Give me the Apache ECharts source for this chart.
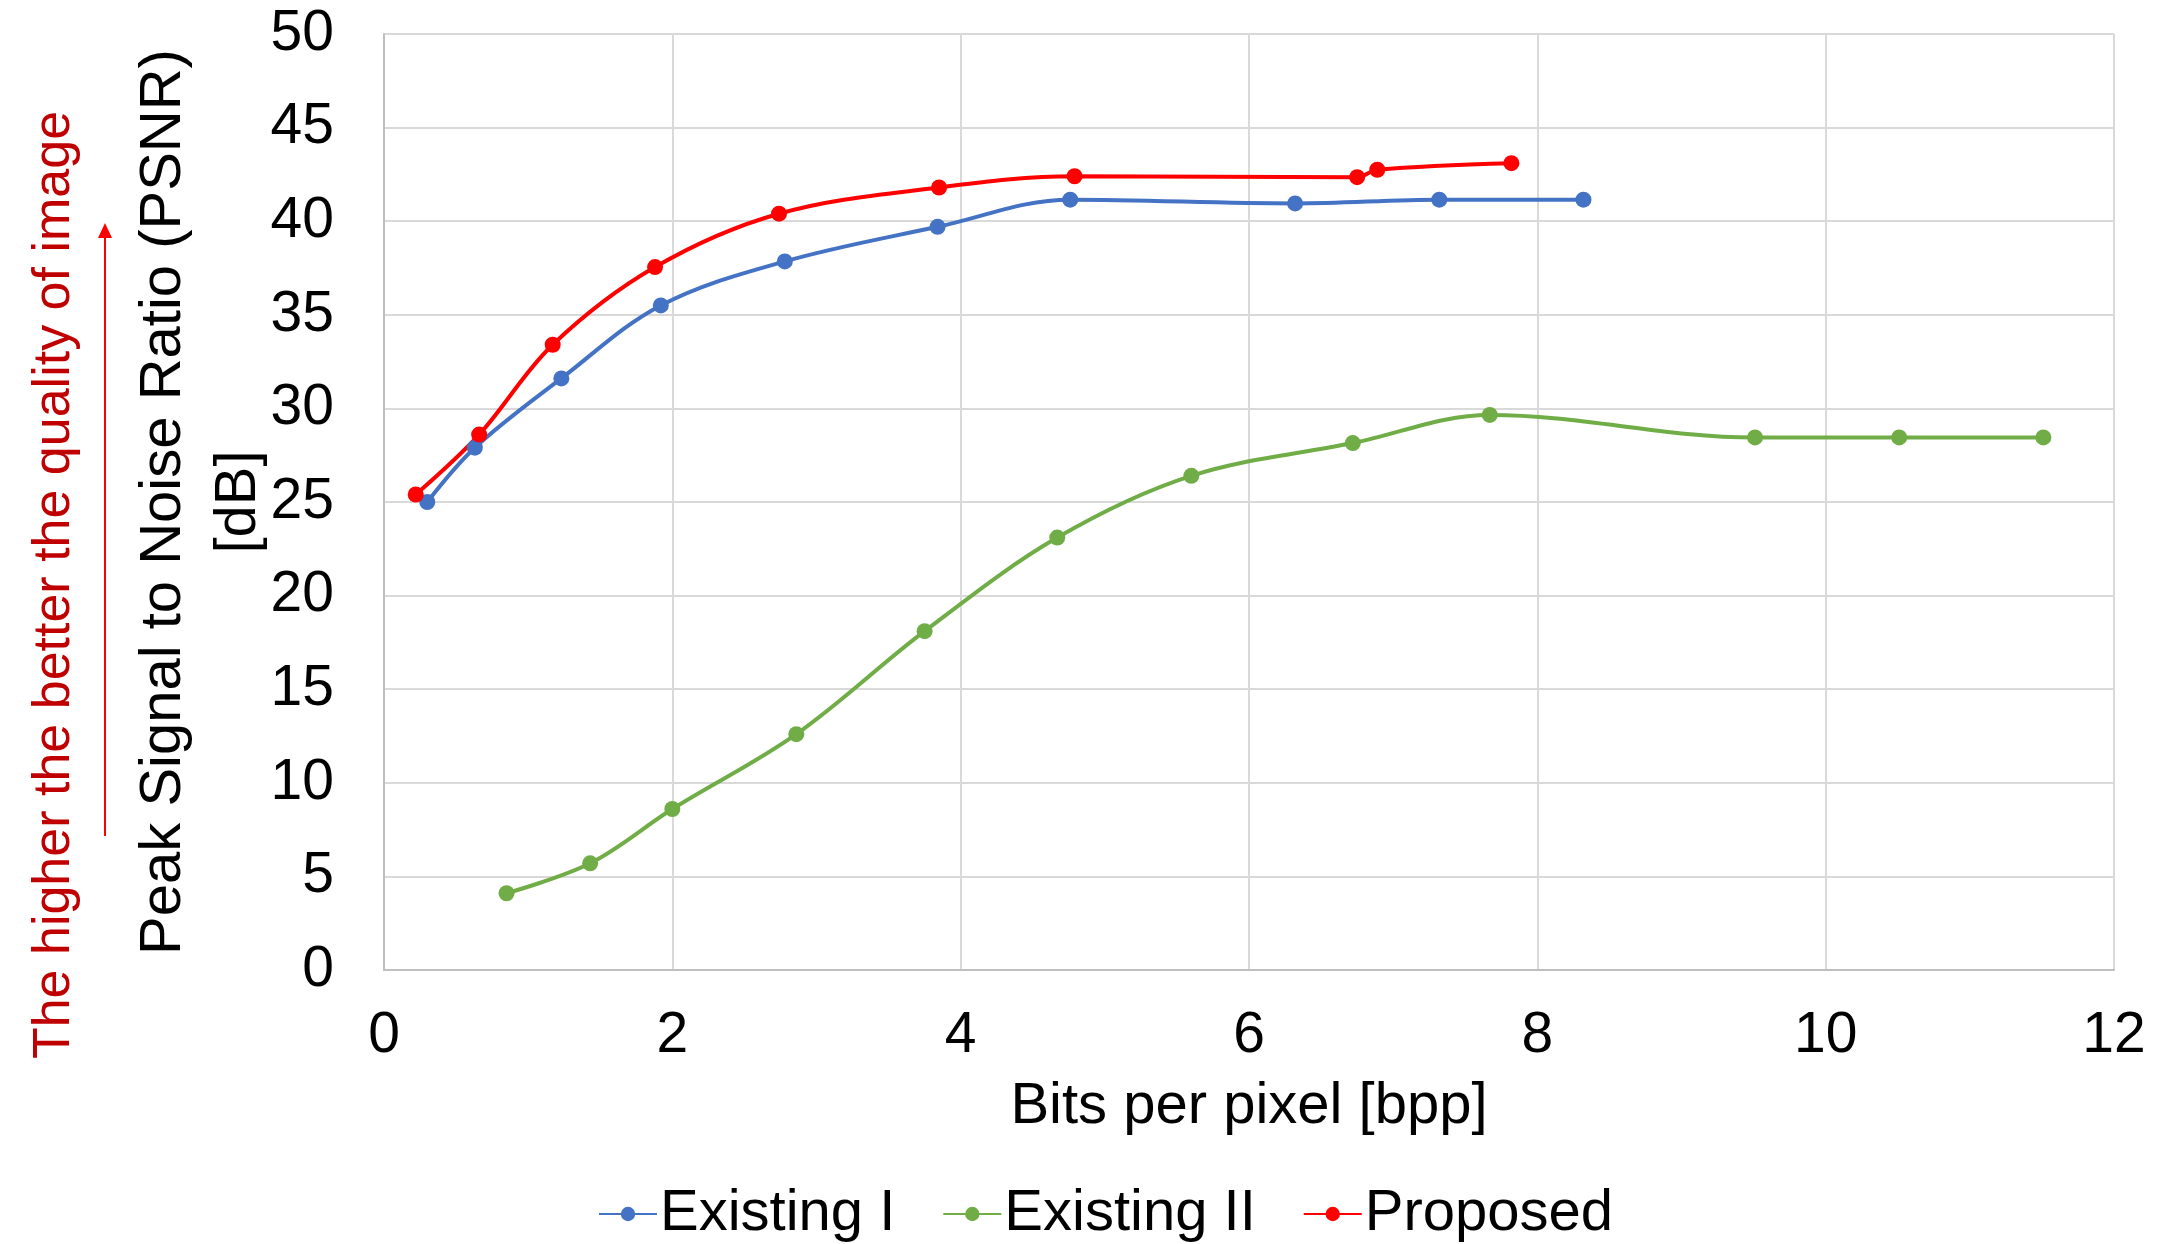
<!DOCTYPE html>
<html>
<head>
<meta charset="utf-8">
<script src="https://cdn.jsdelivr.net/npm/echarts@6/dist/echarts.min.js"></script>
<style>
html,body{margin:0;padding:0;background:#fff;}
#chart{width:2172px;height:1244px;}
</style>
</head>
<body>
<div id="chart"></div>
<script>
// ---- data ----
const existing1X = [0.30, 0.63, 1.23, 1.92, 2.78, 3.84, 4.76, 6.32, 7.32, 8.32];
const existing1Y = [25.0, 27.9, 31.6, 35.5, 37.85, 39.7, 41.15, 40.95, 41.15, 41.15];
const existing2X = [0.85, 1.43, 2.00, 2.86, 3.75, 4.67, 5.60, 6.72, 7.67, 9.51, 10.51, 11.51];
const existing2Y = [4.1, 5.7, 8.6, 12.6, 18.1, 23.1, 26.4, 28.15, 29.65, 28.45, 28.45, 28.45];
const proposedX = [0.22, 0.66, 1.17, 1.88, 2.74, 3.85, 4.79, 6.75, 6.89, 7.82];
const proposedY = [25.4, 28.6, 33.4, 37.55, 40.4, 41.8, 42.4, 42.35, 42.75, 43.1];
const seriesNames = ['Existing I', 'Existing II', 'Proposed'];
const seriesColors = ['#4472C4', '#70AD47', '#FF0000'];
const xTitle = 'Bits per pixel [bpp]';
const yTitle = 'Peak Signal to Noise Ratio (PSNR)\n[dB]';
const sideNote = 'The higher the better the quality of image';

const pairs = (xs, ys) => xs.map((x, i) => [x, ys[i]]);
const allData = [pairs(existing1X, existing1Y), pairs(existing2X, existing2Y), pairs(proposedX, proposedY)];

const FONT = 'Liberation Sans, Arial, sans-serif';
const chart = echarts.init(document.getElementById('chart'), null, {renderer: 'canvas'});

const option = {
  backgroundColor: '#fff',
  animation: false,
  grid: {left: 384, top: 34, width: 1730, height: 936, containLabel: false},
  xAxis: {
    type: 'value', min: 0, max: 12, interval: 2,
    name: xTitle, nameLocation: 'middle', nameGap: 108, nameMoveOverlap: false,
    nameTextStyle: {fontSize: 58, fontFamily: FONT, color: '#000'},
    axisLine: {show: true, lineStyle: {color: '#BFBFBF', width: 2}},
    axisTick: {show: false},
    axisLabel: {fontSize: 57, fontFamily: FONT, color: '#000', margin: 38},
    splitLine: {show: true, lineStyle: {color: '#D9D9D9', width: 2}}
  },
  yAxis: {
    type: 'value', min: 0, max: 50, interval: 5,
    name: yTitle, nameLocation: 'middle', nameGap: 108, nameRotate: 90, nameMoveOverlap: false,
    nameTextStyle: {fontSize: 58, fontFamily: FONT, color: '#000', lineHeight: 75, align: 'center'},
    axisLine: {show: true, lineStyle: {color: '#BFBFBF', width: 2}},
    axisTick: {show: false},
    axisLabel: {fontSize: 57, fontFamily: FONT, color: '#000', margin: 50},
    splitLine: {show: true, lineStyle: {color: '#D9D9D9', width: 2}}
  },
  legend: {
    left: 593, top: 1180,
    itemWidth: 58, itemHeight: 18, itemGap: 47,
    textStyle: {fontSize: 58, fontFamily: FONT, color: '#000', padding: [0, 0, 0, -2]},
    data: seriesNames
  },
  series: seriesNames.map((name, i) => ({
    name: name,
    type: 'line',
    data: allData[i],
    smooth: 0.35,
    symbol: 'circle',
    symbolSize: 16,
    showSymbol: true,
    itemStyle: {color: seriesColors[i]},
    lineStyle: {color: seriesColors[i], width: 4}
  })),
  graphic: [
    {
      type: 'text',
      x: 55, y: 585,
      rotation: Math.PI / 2,
      style: {
        text: sideNote,
        font: '52px ' + FONT,
        fill: '#C00000',
        textAlign: 'center',
        textVerticalAlign: 'middle'
      }
    },
    {
      type: 'line',
      shape: {x1: 105, y1: 836, x2: 105, y2: 236},
      style: {stroke: '#FF0000', lineWidth: 2}
    },
    {
      type: 'polygon',
      shape: {points: [[105, 223], [98, 238], [112, 238]]},
      style: {fill: '#FF0000'}
    }
  ]
};
chart.setOption(option);
</script>
</body>
</html>
